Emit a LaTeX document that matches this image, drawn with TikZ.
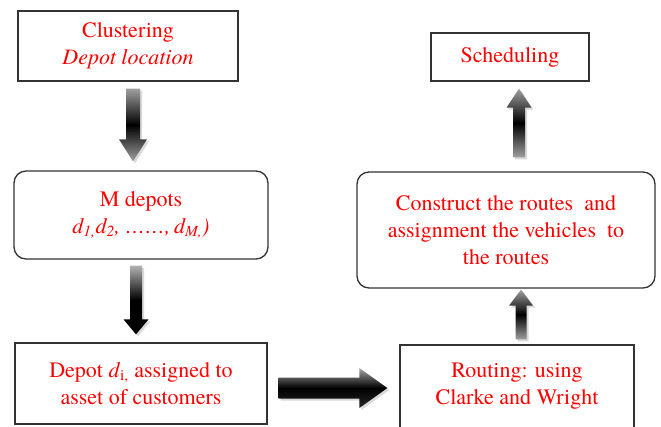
\documentclass[tikz,border=0pt]{standalone}
\usepackage{fontspec}
\setmainfont{texgyretermes}[Extension=.otf, UprightFont=*-regular,
  ItalicFont=*-italic, BoldFont=*-bold, BoldItalicFont=*-bolditalic]
\usetikzlibrary{calc,shadows}

\tikzset{
  stepbox/.style={draw=black!80, line width=1.3pt, inner sep=0pt, align=center,
    text=red, font=\fontsize{22}{27}\selectfont},
  roundbox/.style={stepbox, rounded corners=12pt},
  blockarrow/.style={shade, top color=gray!75, bottom color=gray!75, middle color=black,
    drop shadow={shadow xshift=2pt, shadow yshift=-2pt, opacity=0.3}},
}

% italic d with a subscript, as set in the boxes
\newcommand{\dsub}[1]{\textit{d}\textsubscript{#1}}

% fat arrow from #2 to #3: shaft half width #4, head half width #5, head length #6
\newcommand{\fatarrow}[6][]{%
  \coordinate (fa-h) at ($(#3)!#6!(#2)$);
  \path[blockarrow,#1] ($(#2)!#4!90:(#3)$) -- ($(fa-h)!#4!-90:(#2)$)
    -- ($(fa-h)!#5!-90:(#2)$) -- (#3) -- ($(fa-h)!#5!90:(#2)$)
    -- ($(fa-h)!#4!90:(#2)$) -- ($(#2)!#4!-90:(#3)$) -- cycle;
}

\begin{document}
\begin{tikzpicture}[x=1pt, y={(0pt,-1pt)}]
    \useasboundingbox (0,0) rectangle (661,426);

    % Boxes
    \node[stepbox, minimum width=220pt, minimum height=70pt] (clust) at (128,46)
        {Clustering\\\textit{Depot location}};
    \node[roundbox, minimum width=254pt, minimum height=88pt] (mdep) at (141,215)
        {M depots\\\textit{\dsub{1,}\dsub{2},\ \ldots\ldots,\,\dsub{M,})}};
    \node[stepbox, minimum width=252pt, minimum height=81pt] (depot) at (141,383.5)
        {Depot \dsub{i,} assigned to\\asset of customers};
    \node[stepbox, minimum width=234pt, minimum height=83pt] (routing) at (517,386.5)
        {Routing: using\\Clarke and Wright};
    \node[roundbox, minimum width=298pt, minimum height=116pt] (constr) at (506,230)
        {Construct the routes\ \ and\\assignment the vehicles\ \ to\\the routes};
    \node[stepbox, minimum width=158pt, minimum height=48pt] (sched) at (510,57)
        {Scheduling};

    % Arrow ends
    \coordinate (a1s) at ($(clust.south)+(5,7)$);
    \coordinate (a1e) at ($(mdep.north)+(-8,-9)$);
    \coordinate (a2s) at ($(mdep.south)+(-5,6)$);
    \coordinate (a2e) at ($(depot.north)+(-5,-8)$);
    \coordinate (a3s) at ($(routing.north)+(4,-5)$);
    \coordinate (a3e) at ($(constr.south)+(15,1)$);
    \coordinate (a4s) at ($(constr.north)+(13,-14)$);
    \coordinate (a4e) at ($(sched.south)+(9,7)$);
    \coordinate (a5s) at ($(depot.east)+(11,4.5)$);
    \coordinate (a5e) at ($(routing.west)+(-12,1.5)$);

    % Arrows
    \fatarrow{a1s}{a1e}{7pt}{14pt}{22pt}
    \fatarrow[top color=gray!60, bottom color=black, middle color=black]{a2s}{a2e}{6pt}{12.5pt}{15pt}
    \fatarrow{a3s}{a3e}{5.5pt}{12pt}{16pt}
    \fatarrow{a4s}{a4e}{6pt}{12.5pt}{19pt}
    \fatarrow[top color=gray!70, bottom color=black!85, middle color=black]{a5s}{a5e}{10.5pt}{20pt}{28pt}
\end{tikzpicture}
\end{document}
